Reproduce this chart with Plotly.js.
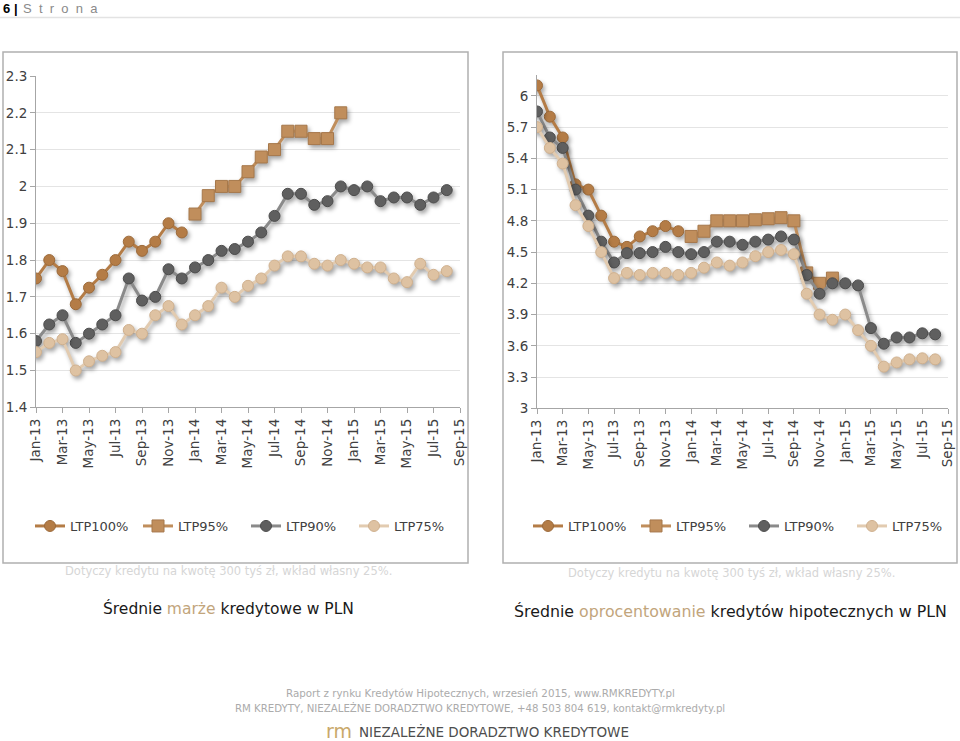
<!DOCTYPE html>
<html><head><meta charset="utf-8">
<script src="https://cdn.plot.ly/plotly-3.0.1.min.js"></script>
<style>
html,body{margin:0;padding:0;background:#fff;}
#chart{width:960px;height:741px;}
.scatterlayer .trace{filter:drop-shadow(2px 3px 2px rgba(0,0,0,0.35));}
</style></head><body><div id="chart"></div>
<script>
// ---- categories ----
const allMonths = ["Jan-13","Feb-13","Mar-13","Apr-13","May-13","Jun-13","Jul-13","Aug-13","Sep-13","Oct-13","Nov-13","Dec-13",
  "Jan-14","Feb-14","Mar-14","Apr-14","May-14","Jun-14","Jul-14","Aug-14","Sep-14","Oct-14","Nov-14","Dec-14",
  "Jan-15","Feb-15","Mar-15","Apr-15","May-15","Jun-15","Jul-15","Aug-15","Sep-15"];
const dataMonths = ["Jan-13","Feb-13","Mar-13","Apr-13","May-13","Jun-13","Jul-13","Aug-13","Sep-13","Oct-13","Nov-13","Dec-13",
  "Jan-14","Feb-14","Mar-14","Apr-14","May-14","Jun-14","Jul-14","Aug-14","Sep-14","Oct-14","Nov-14","Dec-14",
  "Jan-15","Feb-15","Mar-15","Apr-15","May-15","Jun-15","Jul-15","Aug-15"];
const tickLabels = ["Jan-13","Mar-13","May-13","Jul-13","Sep-13","Nov-13","Jan-14","Mar-14","May-14","Jul-14","Sep-14","Nov-14","Jan-15","Mar-15","May-15","Jul-15","Sep-15"];
const seriesNames = ["LTP100%","LTP95%","LTP90%","LTP75%"];

// ---- left chart: Średnie marże kredytowe (%) ----
const marzeLTP100 = [1.75,1.80,1.77,1.68,1.725,1.76,1.80,1.85,1.825,1.85,1.90,1.875,
  null,null,null,null,null,null,null,null,null,null,null,null,null,null,null,null,null,null,null,null];
const marzeLTP95 = [null,null,null,null,null,null,null,null,null,null,null,null,
  1.925,1.975,2.00,2.00,2.04,2.08,2.10,2.15,2.15,2.13,2.13,2.20,
  null,null,null,null,null,null,null,null];
const marzeLTP90 = [1.58,1.625,1.65,1.575,1.60,1.625,1.65,1.75,1.69,1.70,1.775,1.75,
  1.78,1.80,1.825,1.83,1.85,1.875,1.92,1.98,1.98,1.95,1.96,2.00,
  1.99,2.00,1.96,1.97,1.97,1.95,1.97,1.99];
const marzeLTP75 = [1.55,1.575,1.585,1.50,1.525,1.54,1.55,1.61,1.60,1.65,1.675,1.625,
  1.65,1.675,1.725,1.70,1.73,1.75,1.785,1.81,1.81,1.79,1.785,1.80,
  1.79,1.78,1.78,1.75,1.74,1.79,1.76,1.77];

// ---- right chart: Średnie oprocentowanie (%) ----
const oprLTP100 = [6.10,5.80,5.60,5.15,5.10,4.85,4.60,4.55,4.65,4.70,4.75,4.70,
  null,null,null,null,null,null,null,null,null,null,null,null,null,null,null,null,null,null,null,null];
const oprLTP95 = [null,null,null,null,null,null,null,null,null,null,null,null,
  4.65,4.70,4.80,4.80,4.80,4.81,4.82,4.83,4.80,4.30,4.20,4.25,
  null,null,null,null,null,null,null,null];
const oprLTP90 = [5.85,5.60,5.50,5.10,4.85,4.60,4.40,4.49,4.49,4.50,4.55,4.50,
  4.48,4.50,4.60,4.60,4.57,4.60,4.62,4.65,4.62,4.28,4.10,4.20,
  4.20,4.18,3.77,3.62,3.68,3.68,3.72,3.71];
const oprLTP75 = [5.70,5.50,5.35,4.95,4.75,4.50,4.25,4.30,4.28,4.30,4.30,4.28,
  4.30,4.35,4.40,4.37,4.40,4.46,4.50,4.52,4.48,4.10,3.90,3.85,
  3.90,3.75,3.60,3.40,3.44,3.47,3.48,3.47];

// ---- styles ----
const styles = [
  {line:'#b47c46', marker:'#b47c46', edge:'#9c6a3a', symbol:'circle', size:11},
  {line:'#c08e5c', marker:'#c08e5c', edge:'#a6784b', symbol:'square', size:12},
  {line:'#8a8a8a', marker:'#5f5f5f', edge:'#4c4c4c', symbol:'circle', size:11},
  {line:'#e2cbb0', marker:'#dec2a2', edge:'#cfb08e', symbol:'circle', size:11}
];

const W = 960, H = 741;
const px = x => x / W;
const py = y => 1 - y / H;

function makeTraces(values, xa, ya, lg) {
  return values.map((vals, k) => ({
    type: 'scatter', mode: 'lines+markers',
    x: dataMonths, y: vals, name: seriesNames[k],
    xaxis: xa, yaxis: ya, legend: lg,
    connectgaps: false, hoverinfo: 'skip',
    line: {color: styles[k].line, width: 3},
    marker: {color: styles[k].marker, symbol: styles[k].symbol, size: styles[k].size,
             line: {color: styles[k].edge, width: 1}}
  }));
}

const traces = [
  ...makeTraces([marzeLTP100, marzeLTP95, marzeLTP90, marzeLTP75], 'x', 'y', 'legend'),
  ...makeTraces([oprLTP100, oprLTP95, oprLTP90, oprLTP75], 'x2', 'y2', 'legend2')
];

const axisCol = '#a6a6a6', gridCol = '#e4e4e4', tickFont = {family:'DejaVu Sans', size:13.5, color:'#404040'};
function xAxis(d, anchor) {
  return {domain: d, anchor: anchor, type: 'category', categoryarray: allMonths, categoryorder: 'array',
    range: [0, allMonths.length - 1], tickmode: 'array', tickvals: tickLabels, ticktext: tickLabels,
    tickangle: -90, ticks: 'outside', ticklen: 5, tickcolor: axisCol, showline: true, linecolor: axisCol,
    linewidth: 1, showgrid: false, zeroline: false, tickfont: tickFont, fixedrange: true};
}
function yAxis(d, anchor, r, dt) {
  return {domain: d, anchor: anchor, range: r, tick0: r[0], dtick: dt, ticks: 'outside', ticklen: 5,
    tickcolor: axisCol, showline: true, linecolor: axisCol, linewidth: 1, showgrid: true, gridcolor: gridCol,
    gridwidth: 1, zeroline: false, tickfont: tickFont, fixedrange: true};
}
const legendBase = {orientation: 'h', yanchor: 'middle', y: py(526), xanchor: 'left', entrywidth: 63,
  font: {family: 'DejaVu Sans', size: 13, color: '#404040'}, bgcolor: 'rgba(0,0,0,0)', itemclick: false, itemdoubleclick: false};

const panelCol = '#b0b0b0';
const headFont = {family: 'Liberation Sans', size: 13, color: '#000'};
const layout = {
  width: W, height: H, margin: {l: 0, r: 0, t: 0, b: 0},
  paper_bgcolor: '#ffffff', plot_bgcolor: 'rgba(0,0,0,0)', showlegend: true,
  font: {family: 'DejaVu Sans', color: '#404040'},
  xaxis: xAxis([px(36), px(460)], 'y'),
  yaxis: yAxis([py(407.3), py(76)], 'x', [1.4, 2.3], 0.1),
  xaxis2: xAxis([px(537), px(948)], 'y2'),
  yaxis2: yAxis([py(408.3), py(75)], 'x2', [3, 6.2], 0.3),
  legend: Object.assign({}, legendBase, {x: px(30)}),
  legend2: Object.assign({}, legendBase, {x: px(528)}),
  shapes: [
    {type: 'rect', xref: 'paper', yref: 'paper', x0: px(3), x1: px(468), y0: py(563), y1: py(52),
     line: {color: panelCol, width: 1.5}, layer: 'below'},
    {type: 'rect', xref: 'paper', yref: 'paper', x0: px(503), x1: px(957), y0: py(563), y1: py(52),
     line: {color: panelCol, width: 1.5}, layer: 'below'},
    {type: 'line', xref: 'paper', yref: 'paper', x0: 0, x1: 1, y0: py(17.5), y1: py(17.5),
     line: {color: '#e3e3e3', width: 1.5}}
  ],
  annotations: [
    {xref: 'paper', yref: 'paper', x: px(1), y: py(8.5), xanchor: 'left', yanchor: 'middle', showarrow: false,
     text: '<b>6</b>', font: headFont},
    {xref: 'paper', yref: 'paper', x: px(12), y: py(8.5), xanchor: 'left', yanchor: 'middle', showarrow: false,
     text: '<b>|</b>', font: headFont},
    {xref: 'paper', yref: 'paper', x: px(21), y: py(8.5), xanchor: 'left', yanchor: 'middle', showarrow: false,
     text: 'S\u00a0\u00a0t\u00a0\u00a0r\u00a0\u00a0o\u00a0\u00a0n\u00a0\u00a0a',
     font: {family: 'Liberation Sans', size: 13, color: '#8a8a8a'}},
    {xref: 'paper', yref: 'paper', x: px(228.5), y: py(571), xanchor: 'center', yanchor: 'middle', showarrow: false,
     text: 'Dotyczy kredytu na kwotę 300 tyś zł, wkład własny 25%.',
     font: {family: 'DejaVu Sans', size: 11.5, color: '#d6d6d6'}},
    {xref: 'paper', yref: 'paper', x: px(731), y: py(573), xanchor: 'center', yanchor: 'middle', showarrow: false,
     text: 'Dotyczy kredytu na kwotę 300 tyś zł, wkład własny 25%.',
     font: {family: 'DejaVu Sans', size: 11.5, color: '#d6d6d6'}},
    {xref: 'paper', yref: 'paper', x: px(228.5), y: py(608), xanchor: 'center', yanchor: 'middle', showarrow: false,
     text: 'Średnie <span style="color:#c2a57c">marże</span> kredytowe w PLN',
     font: {family: 'DejaVu Sans', size: 15.5, color: '#1a1a1a'}},
    {xref: 'paper', yref: 'paper', x: px(730.5), y: py(611), xanchor: 'center', yanchor: 'middle', showarrow: false,
     text: 'Średnie <span style="color:#c2a57c">oprocentowanie</span> kredytów hipotecznych w PLN',
     font: {family: 'DejaVu Sans', size: 15.8, color: '#1a1a1a'}},
    {xref: 'paper', yref: 'paper', x: px(480), y: py(693), xanchor: 'center', yanchor: 'middle', showarrow: false,
     text: 'Raport z rynku Kredytów Hipotecznych, wrzesień 2015, www.RMKREDYTY.pl',
     font: {family: 'DejaVu Sans', size: 10.3, color: '#ababab'}},
    {xref: 'paper', yref: 'paper', x: px(480), y: py(708), xanchor: 'center', yanchor: 'middle', showarrow: false,
     text: 'RM KREDYTY, NIEZALEŻNE DORADZTWO KREDYTOWE, +48 503 804 619, kontakt@rmkredyty.pl',
     font: {family: 'DejaVu Sans', size: 10.2, color: '#ababab'}},
    {xref: 'paper', yref: 'paper', x: px(354), y: py(731), xanchor: 'right', yanchor: 'middle', showarrow: false,
     text: 'rm', font: {family: 'DejaVu Sans', size: 19, color: '#c9a86a'}},
    {xref: 'paper', yref: 'paper', x: px(357), y: py(731), xanchor: 'left', yanchor: 'middle', showarrow: false,
     text: 'NIEZALEŻNE DORADZTWO KREDYTOWE',
     font: {family: 'DejaVu Sans', size: 13.5, color: '#4d4d4d'}}
  ]
};

Plotly.newPlot('chart', traces, layout, {staticPlot: true, displayModeBar: false});
</script></body></html>
